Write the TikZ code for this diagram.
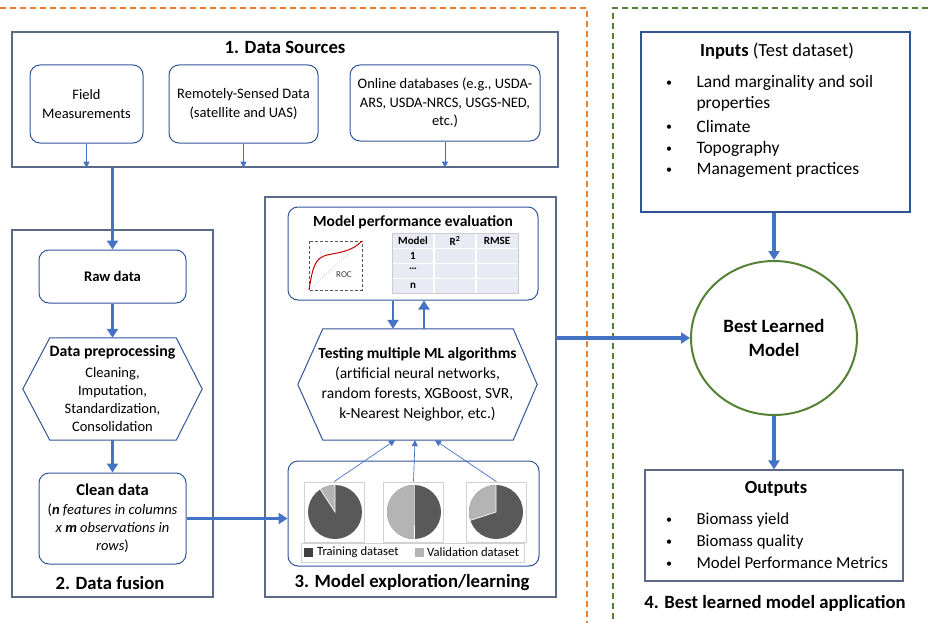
\documentclass[tikz,border=0pt]{standalone}
\usepackage{fontspec}
\setmainfont{Carlito}
\usetikzlibrary{arrows.meta,shapes.geometric,calc}

\definecolor{arrowblue}{HTML}{4472C4}
\definecolor{boxblue}{HTML}{2F5597}
\definecolor{slate}{HTML}{5A6A88}
\definecolor{dorange}{HTML}{ED7D31}
\definecolor{dgreen}{HTML}{548235}
\definecolor{piedark}{HTML}{595959}
\definecolor{pielight}{HTML}{B4B4B4}
\definecolor{legdark}{HTML}{404040}
\definecolor{tablefill}{HTML}{E9EBF4}

\newcommand\fsz[2]{\fontsize{#1}{#2}\selectfont}

% one pie: centre x, centre y, angle where the light slice ends
\newcommand\piechart[3]{%
  \begin{scope}[shift={(#1,#2)}, yscale=-1]
    \fill[piedark] (0,0) circle[radius=27];
    \fill[pielight] (0,0) -- (90:27) arc[start angle=90, end angle=#3, radius=27] -- cycle;
    \draw[white, line width=0.7pt] (90:27) -- (0,0) -- (#3:27);
  \end{scope}}

\tikzset{
  outerbox/.style={draw=slate, line width=1.3pt, inner sep=0pt},
  roundbox/.style={draw=boxblue, line width=1pt, rounded corners=10pt, inner sep=0pt, align=center},
  plainbox/.style={draw=boxblue, line width=1.2pt, inner sep=0pt},
  bigarrow/.style={draw=arrowblue, line width=3.2pt, -{Triangle[length=9pt,width=11pt]}},
  smallarrow/.style={draw=arrowblue, line width=0.9pt, -{Triangle[length=6pt,width=6pt]}},
  thinarrow/.style={draw=arrowblue, line width=0.7pt, -{Triangle[length=6pt,width=6pt]}},
  hexline/.style={draw=boxblue, line width=1pt},
  piebox/.style={draw=black!18, line width=0.6pt, inner sep=0pt, minimum width=60pt, minimum height=60pt},
  inbul/.style={anchor=base, font=\fsz{12}{19}},
  intext/.style={anchor=base west, font=\fsz{17.5}{21}},
  outbul/.style={anchor=base, font=\fsz{12}{19}},
  outtext/.style={anchor=base west, font=\fsz{16.8}{21}},
  sectitle/.style={font=\fsz{18.7}{22}\bfseries}
}

\begin{document}
\begin{tikzpicture}[x=1pt, y=-1pt]
\useasboundingbox (0,0) rectangle (928,623);

% dashed section frames
\draw[dorange, line width=1.6pt, dash pattern=on 6pt off 4pt] (0,8) -- (587,8) -- (587,623);
\draw[dgreen, line width=1.5pt, dash pattern=on 6pt off 4pt] (928,8) -- (613,8) -- (613,623);

% ---------- 1. Data sources ----------
\node[outerbox, minimum width=546pt, minimum height=135pt] (src) at (285,99.5) {};
\node[sectitle] (srct) at (285,47) {1. Data Sources};
\node[roundbox, minimum width=113pt, minimum height=78pt, font=\fsz{14.5}{18.5}] (field) at (86.5,104) {Field\\Measurements};
\node[roundbox, minimum width=149pt, minimum height=78pt, font=\fsz{14.5}{18.5}] (remote) at (243.5,104) {Remotely-Sensed Data\\(satellite and UAS)};
\node[roundbox, minimum width=190pt, minimum height=76pt, font=\fsz{14.5}{18.5}] (online) at (445,103) {Online databases (e.g., USDA-\\ARS, USDA-NRCS, USGS-NED,\\etc.)};
\draw[smallarrow] (field.south) -- (field.south |- src.south);
\draw[smallarrow] (remote.south) -- (remote.south |- src.south);
\draw[smallarrow] (online.south) -- (online.south |- src.south);

% ---------- 2. Data fusion ----------
\node[outerbox, minimum width=201pt, minimum height=367pt] (fusion) at (112.5,413.5) {};
\node[sectitle] (fusiont) at (110,583) {2. Data fusion};
\node[roundbox, minimum width=147pt, minimum height=53pt, font=\fsz{14.7}{17}\bfseries] (raw) at (112.5,276.5) {Raw data};
\node[inner sep=0pt, minimum width=179pt, minimum height=102pt, align=center, font=\fsz{14.5}{18}] (prep) at (112.5,389)
  {{\fsz{15.8}{18}\bfseries Data preprocessing}\\[3pt]Cleaning,\\Imputation,\\Standardization,\\Consolidation};
\draw[hexline] (prep.west) -- ($(prep.north west)+(27,0)$) -- ($(prep.north east)+(-26,0)$) -- (prep.east)
  -- ($(prep.south east)+(-26,0)$) -- ($(prep.south west)+(27,0)$) -- cycle;
\node[roundbox, minimum width=147pt, minimum height=91pt, font=\fsz{14.5}{18}] (clean) at (112.5,518.5)
  {{\fsz{16.5}{18}\bfseries Clean data}\\[1pt](\textbf{\textit{n}} \textit{features in columns}\\\textit{x} \textbf{\textit{m}} \textit{observations in}\\\textit{rows})};
\draw[bigarrow] (src.south -| raw.north) -- (raw.north);
\draw[bigarrow] (raw.south) -- (prep.north);
\draw[bigarrow] (prep.south) -- (clean.north);

% ---------- 3. Model exploration ----------
\node[outerbox, minimum width=291pt, minimum height=400pt] (explore) at (410.5,397) {};
\node[sectitle] (exploret) at (412,583) {3. Model exploration/learning};

% performance evaluation panel
\node[roundbox, minimum width=250pt, minimum height=93pt] (perf) at (413,253.5) {};
\node[font=\fsz{15.5}{18}\bfseries] (perft) at (413,222) {Model performance evaluation};
\draw[black!65, line width=0.8pt, dash pattern=on 3pt off 2pt] (309,241) rectangle (362,290);
\draw[black!40, line width=0.6pt, dotted] (309,290) -- (362,241);
\draw[red!75!black, line width=1pt] (309,290) .. controls (313,264) and (316,258) .. (327,255)
  .. controls (342,252) and (352,251) .. (362,241);
\node[font=\fsz{9}{10}, text=black!75] (roc) at (344,275) {ROC};
\fill[tablefill] (392,233) rectangle (518,293);
\draw[white, line width=1.3pt] (434,233) -- (434,293) (476,233) -- (476,293)
  (392,248.5) -- (518,248.5) (392,263.5) -- (518,263.5) (392,278.5) -- (518,278.5);
\draw[black!20, line width=0.5pt] (392,233) rectangle (518,293);
\node[font=\fsz{11}{12}\bfseries] (thm) at (413,241) {Model};
\node[font=\fsz{11}{12}\bfseries] (thr) at (455,241) {R\textsuperscript{2}};
\node[font=\fsz{11}{12}\bfseries] (the) at (497,241) {RMSE};
\node[font=\fsz{11}{12}\bfseries] (r1) at (413,256) {1};
\node[font=\fsz{11}{12}\bfseries] (r2) at (413,269) {…};
\node[font=\fsz{11}{12}\bfseries] (r3) at (413,286) {n};

% testing hexagon
\node[inner sep=0pt, minimum width=239pt, minimum height=111pt, align=center, font=\fsz{15.5}{20}] (test) at (417.5,384.5)
  {{\fsz{15.5}{20}\bfseries Testing multiple ML algorithms}\\(artificial neural networks,\\random forests, XGBoost, SVR,\\k-Nearest Neighbor, etc.)};
\draw[hexline] (test.west) -- ($(test.north west)+(25,0)$) -- ($(test.north east)+(-24,0)$) -- (test.east)
  -- ($(test.south east)+(-24,0)$) -- ($(test.south west)+(25,0)$) -- cycle;
\path (perf.south) ++(-20,0) coordinate (pdown);
\path (perf.south) ++(11,0) coordinate (pup);
\draw[bigarrow, line width=2.8pt] (pdown) -- (pdown |- test.north);
\draw[bigarrow, line width=2.8pt] (pup |- test.north) -- (pup);

% data split panel
\node[roundbox, minimum width=251pt, minimum height=105pt] (split) at (413.5,513.5) {};
\node[piebox] (pieA) at (334,512) {};
\node[piebox] (pieB) at (413.5,512) {};
\node[piebox] (pieC) at (496.5,512) {};
\piechart{335}{512}{123}
\piechart{414}{512}{270}
\piechart{496}{512}{198}
\node[draw=black!18, line width=0.6pt, inner sep=0pt, minimum width=223pt, minimum height=19pt] (legend) at (412.5,552.5) {};
\fill[legdark] (304,548) rectangle (313,557);
\fill[pielight] (415,548) rectangle (424,557);
\node[anchor=west, font=\fsz{12.6}{15}, inner sep=0pt] (legA) at (317,552.5) {Training dataset};
\node[anchor=west, font=\fsz{12.6}{15}, inner sep=0pt] (legB) at (427,552.5) {Validation dataset};
\draw[thinarrow] (pieA.north) -- ($(test.south)+(-22.5,0)$);
\draw[thinarrow] (pieB.north) -- ($(test.south)+(-2.5,0)$);
\draw[thinarrow] (pieC.north) -- ($(test.south)+(17.5,0)$);
\draw[bigarrow] (clean.east) -- (clean.east -| split.west);

% ---------- 4. Best learned model application ----------
\node[plainbox, minimum width=269pt, minimum height=180pt] (inputs) at (775.5,122) {};
\node[font=\fsz{18.5}{21}] (inputst) at (777,51) {\textbf{Inputs} (Test dataset)};
\node[inbul] (ib1) at (669,87) {\textbullet};
\node[intext] (it1) at (693,88) {Land marginality and soil};
\node[intext] (it1b) at (693,109) {properties};
\node[inbul] (ib2) at (669,131) {\textbullet};
\node[intext] (it2) at (693,132) {Climate};
\node[inbul] (ib3) at (669,152) {\textbullet};
\node[intext] (it3) at (693,153) {Topography};
\node[inbul] (ib4) at (669,173) {\textbullet};
\node[intext] (it4) at (693,174) {Management practices};

\node[ellipse, draw=dgreen, line width=2pt, minimum width=166pt, minimum height=154pt, inner sep=0pt,
  align=center, font=\fsz{18.8}{24}\bfseries] (model) at (774,338) {Best Learned\\Model};

\node[plainbox, draw=slate, minimum width=258pt, minimum height=111pt] (outputs) at (774,525.5) {};
\node[font=\fsz{18.5}{21}\bfseries] (outputst) at (776,489) {Outputs};
\node[outbul] (ob1) at (669,523) {\textbullet};
\node[outtext] (ot1) at (693,524) {Biomass yield};
\node[outbul] (ob2) at (669,545) {\textbullet};
\node[outtext] (ot2) at (693,546) {Biomass quality};
\node[outbul] (ob3) at (669,567) {\textbullet};
\node[outtext] (ot3) at (693,568) {Model Performance Metrics};
\node[sectitle] (appt) at (775,603) {4. Best learned model application};

\draw[bigarrow] (model.north |- inputs.south) -- (model.north);
\draw[bigarrow] (model.south) -- (model.south |- outputs.north);
\draw[bigarrow] (model.west -| explore.east) -- (model.west);
\end{tikzpicture}
\end{document}
